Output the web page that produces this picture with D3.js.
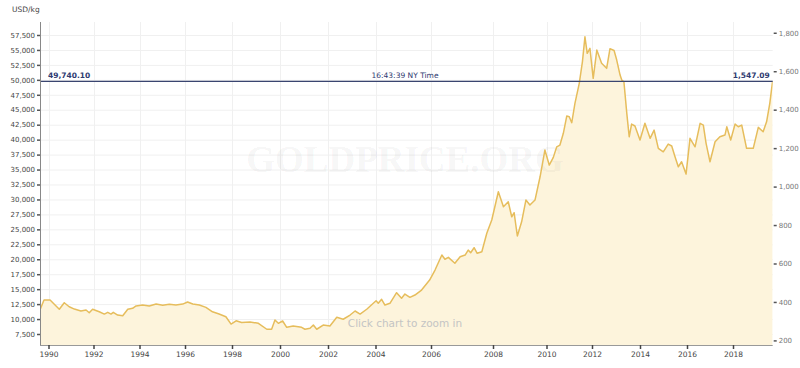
<!DOCTYPE html>
<html><head><meta charset="utf-8">
<script src="https://cdn.jsdelivr.net/npm/d3@7"></script>
<style>body{margin:0;background:#fff;overflow:hidden}</style>
</head><body><svg id="c" width="800" height="368"></svg>
<script>
// ---- data ----
const years = [1989.62,1989.80,1990.07,1990.48,1990.70,1990.92,1991.15,1991.44,1991.67,1991.81,1991.96,
1992.25,1992.47,1992.62,1992.76,1992.86,1993.05,1993.27,1993.49,1993.70,1993.85,1994.14,1994.43,1994.73,
1995.02,1995.31,1995.60,1995.90,1996.11,1996.33,1996.61,1996.89,1997.17,1997.45,1997.74,1997.96,1998.17,
1998.40,1998.75,1999.10,1999.45,1999.65,1999.79,1999.93,2000.11,2000.28,2000.55,2000.90,2001.04,2001.25,
2001.39,2001.53,2001.80,2002.08,2002.37,2002.64,2002.93,2003.14,2003.35,2003.63,2004.02,2004.10,2004.22,
2004.34,2004.52,2004.76,2004.94,2005.06,2005.24,2005.42,2005.66,2005.95,2006.13,2006.35,2006.45,2006.56,
2006.77,2006.94,2007.10,2007.20,2007.28,2007.39,2007.49,2007.64,2007.80,2007.96,2008.20,2008.39,2008.57,
2008.70,2008.79,2008.91,2009.07,2009.23,2009.38,2009.57,2009.76,2009.94,2010.12,2010.30,2010.45,2010.59,
2010.74,2010.89,2011.00,2011.11,2011.25,2011.44,2011.58,2011.69,2011.79,2011.91,2012.05,2012.20,2012.40,
2012.61,2012.75,2012.92,2013.03,2013.17,2013.24,2013.33,2013.45,2013.55,2013.65,2013.79,2014.00,2014.21,
2014.43,2014.60,2014.78,2014.99,2015.20,2015.35,2015.49,2015.63,2015.77,2015.96,2016.13,2016.35,2016.57,
2016.71,2016.83,2017.00,2017.22,2017.43,2017.65,2017.73,2017.90,2018.09,2018.23,2018.38,2018.59,2018.88,
2019.10,2019.31,2019.46,2019.60,2019.72];
const pricesOz = [358,410,410,362,396,375,363,353,358,344,362,
349,337,346,337,346,332,328,362,367,379,384,379,389,
383,388,384,389,400,389,384,372,349,337,323,285,302,
293,296,289,258,258,306,289,301,268,275,268,258,263,
280,258,280,275,320,310,332,353,337,362,406,393,414,
384,393,448,419,441,424,436,462,514,566,644,622,632,
601,635,644,670,656,682,653,661,757,826,973,895,921,
843,864,743,817,930,904,930,1051,1190,1112,1152,1207,1216,
1277,1367,1363,1332,1433,1537,1650,1779,1693,1719,1563,1710,1641,
1615,1717,1708,1658,1580,1554,1545,1381,1259,1325,1315,1242,1329,
1251,1294,1199,1181,1221,1211,1155,1103,1129,1065,1251,1207,1329,
1320,1225,1129,1233,1259,1268,1311,1242,1325,1311,1320,1199,1199,
1308,1285,1337,1433,1547.09];
const yearTicks = [1990,1992,1994,1996,1998,2000,2002,2004,2006,2008,2010,2012,2014,2016,2018];
const kgTicks = [7500,10000,12500,15000,17500,20000,22500,25000,27500,30000,32500,35000,37500,40000,42500,45000,47500,50000,52500,55000,57500];
const ozTicks = [200,400,600,800,1000,1200,1400,1600,1800];
const currentOz = 1547.09;
const currentKg = 49740.10;
const timeLabel = "16:43:39 NY Time";
const OZ_PER_KG = 32.1507466;

// ---- layout ----
const svg = d3.select("#c");
const L = 40, R = 772.7, T = 22, B = 345;
const x = d3.scaleLinear().domain(yearTicks)
  .range([48.5,93.5,139.5,185,232,280,328,375.5,431,493,546.5,592,640,687,733]);
const y = d3.scaleLinear().domain([176.1, 1856]).range([B, T]);
const yKg = d3.scaleLinear().domain([176.1*OZ_PER_KG, 1856*OZ_PER_KG]).range([B, T]);
const data = years.map((yr,i)=>({yr, p: pricesOz[i]}));
const font = "DejaVu Sans, Verdana, sans-serif";

// gridlines
svg.append("g").selectAll("line").data(kgTicks).join("line")
  .attr("x1", L).attr("x2", R).attr("y1", d=>yKg(d)+0.5).attr("y2", d=>yKg(d)+0.5)
  .attr("stroke", "#f0f0f0").attr("stroke-width", 1);
svg.append("g").selectAll("line").data(yearTicks).join("line")
  .attr("x1", d=>Math.round(x(d))+0.5).attr("x2", d=>Math.round(x(d))+0.5).attr("y1", T).attr("y2", B)
  .attr("stroke", "#f0f0f0").attr("stroke-width", 1);

svg.append("defs").append("clipPath").attr("id","clip").append("rect")
  .attr("x",L).attr("y",T).attr("width",R-L).attr("height",B-T);

// area
svg.append("path").datum(data).attr("clip-path","url(#clip)")
  .attr("d", d3.area().x(d=>x(d.yr)).y0(B).y1(d=>y(d.p)))
  .attr("fill","#fdf4dc");

// watermark
svg.append("text").attr("x", 405).attr("y", 172).attr("text-anchor","middle")
  .attr("font-family","Liberation Serif, serif").attr("font-weight","bold").attr("font-size",37)
  .attr("fill","#000").attr("fill-opacity",0.055).text("GOLDPRICE.ORG");

svg.append("text").attr("x", 405).attr("y", 327).attr("text-anchor","middle")
  .attr("font-family", font).attr("font-size", 10.5).attr("fill","#c4c4c4")
  .text("Click chart to zoom in");

// line
svg.append("path").datum(data).attr("clip-path","url(#clip)")
  .attr("d", d3.line().x(d=>x(d.yr)).y(d=>y(d.p)))
  .attr("fill","none").attr("stroke","#e6bd5c").attr("stroke-width",1.5).attr("stroke-linejoin","round");

// current price line
const cy = y(currentOz);
svg.append("line").attr("x1",L).attr("x2",R).attr("y1",cy).attr("y2",cy)
  .attr("stroke","#3a4570").attr("stroke-width",1.3);
svg.append("text").attr("x",L+8).attr("y",cy-3).attr("font-family",font).attr("font-size",7.5)
  .attr("font-weight","bold").attr("fill","#2e3a70").text(d3.format(",.2f")(currentKg));
svg.append("text").attr("x",405).attr("y",cy-3).attr("text-anchor","middle").attr("font-family",font).attr("font-size",7.5)
  .attr("fill","#2e3a70").text(timeLabel);
svg.append("text").attr("x",R-3).attr("y",cy-3).attr("text-anchor","end").attr("font-family",font).attr("font-size",7.5)
  .attr("font-weight","bold").attr("fill","#2e3a70").text(d3.format(",.2f")(currentOz));

// left axis
const gl = svg.append("g").attr("transform",`translate(${L},0)`)
  .call(d3.axisLeft(yKg).tickValues(kgTicks).tickSize(3).tickPadding(2).tickFormat(d3.format(",")));
gl.select(".domain").attr("stroke","#888").attr("d",`M0.5,${T}V${B}`);
gl.selectAll(".tick line").attr("stroke","#555").attr("stroke-width",1.5);
gl.selectAll(".tick text").attr("font-family",font).attr("font-size",7).attr("fill","#444");

// right axis
const gr = svg.append("g").attr("transform",`translate(${R+1},0)`)
  .call(d3.axisRight(y).tickValues(ozTicks).tickSize(3).tickPadding(2).tickFormat(d3.format(",")));
gr.select(".domain").remove();
gr.selectAll(".tick line").attr("stroke","#555").attr("stroke-width",1.5);
gr.selectAll(".tick text").attr("font-family",font).attr("font-size",7).attr("fill","#777");

// bottom axis
const gb = svg.append("g").attr("transform",`translate(0,${B})`)
  .call(d3.axisBottom(x).tickValues(yearTicks).tickSize(4).tickPadding(3).tickFormat(d3.format("d")));
gb.select(".domain").attr("stroke","#999").attr("d",`M${L},0.5H${R}`);
gb.selectAll(".tick line").attr("stroke","#444").attr("stroke-width",1.5);
gb.selectAll(".tick text").attr("font-family",font).attr("font-size",7.5).attr("fill","#444");

svg.append("text").attr("x",12).attr("y",12).attr("font-family",font).attr("font-size",7.5)
  .attr("fill","#444").text("USD/kg");
</script></body></html>
